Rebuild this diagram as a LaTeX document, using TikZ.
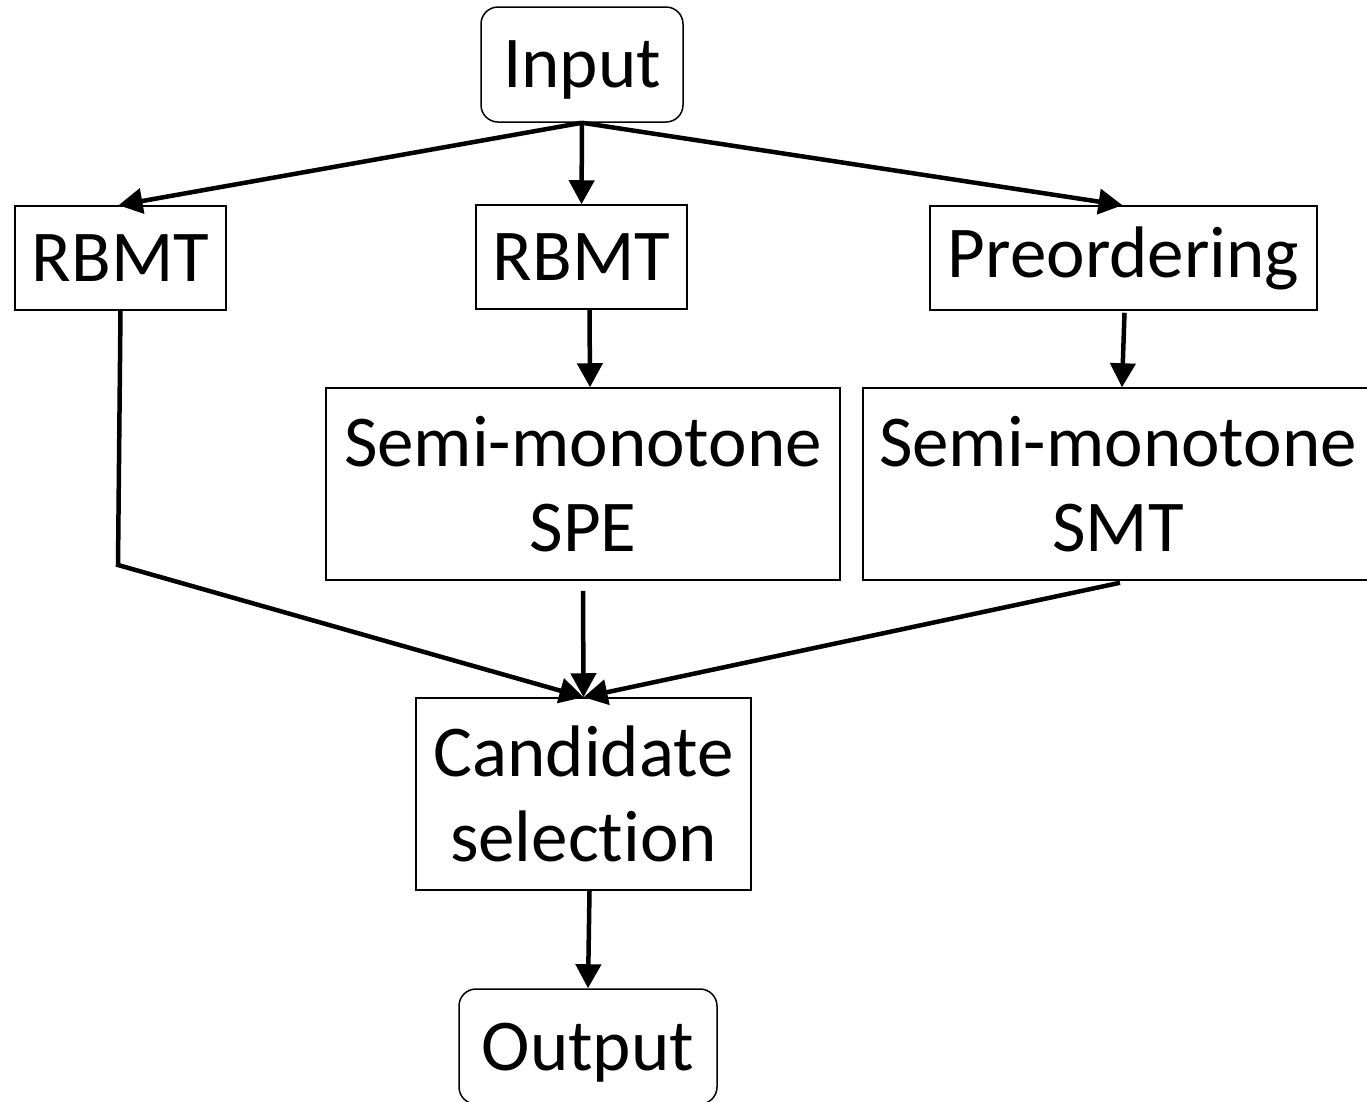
\documentclass[tikz,border=0pt]{standalone}
\usepackage{fontspec}
\setmainfont{Carlito}[RawFeature=-liga]
\usetikzlibrary{arrows.meta}
\begin{document}
\begin{tikzpicture}[x=1pt,y=-1pt,
  box/.style={draw, line width=1.5pt, inner sep=0pt, align=center,
    font=\fontsize{73}{85}\selectfont},
  term/.style={box, rounded corners=17pt, text depth=0pt},
  conn/.style={line width=4.5pt, -{Triangle[length=24pt,width=25pt]}},
]
\useasboundingbox (0,0) rectangle (1367,1101);
\begin{scope}
\clip (0,0) rectangle (1367,1101);
\node[term, minimum width=202pt, minimum height=115pt] (input) at (582,64.5) {Input};
\node[box, minimum width=211pt, minimum height=104pt] (rbmt1) at (120.5,258) {RBMT};
\node[box, minimum width=211pt, minimum height=104pt] (rbmt2) at (581.5,257) {RBMT};
\node[box, minimum width=387pt, minimum height=104pt] (preo) at (1123.5,258) {Preordering};
\node[box, minimum width=514pt, minimum height=192pt] (spe) at (583,484) {Semi-monotone\\SPE};
\node[box, minimum width=510pt, minimum height=192pt] (smt) at (1118,484) {Semi-monotone\\SMT};
\node[box, minimum width=335pt, minimum height=192pt] (cand) at (583.5,794) {Candidate\\selection};
\node[term, minimum width=258pt, minimum height=115pt] (output) at (588,1046.5) {Output};
\coordinate (bend1) at (118,565);

\draw[conn] (input.south) -- ([xshift=-2pt]rbmt1.north);
\draw[conn] (input.south) -- (rbmt2.north);
\draw[conn] (input.south) -- ([xshift=-1pt]preo.north);
\draw[conn] ([xshift=8pt]rbmt2.south) -- ([xshift=7pt]spe.north);
\draw[conn] ([xshift=1pt,yshift=-2pt]preo.south) -- ([xshift=4pt]smt.north);
\draw[conn] (rbmt1.south) -- (bend1) -- (cand.north);
\draw[conn] ([yshift=-10pt]spe.south) -- (cand.north);
\draw[conn] ([xshift=2pt,yshift=-2pt]smt.south) -- (cand.north);
\draw[conn] ([xshift=6pt]cand.south) -- (output.north);
\end{scope}
\end{tikzpicture}
\end{document}
